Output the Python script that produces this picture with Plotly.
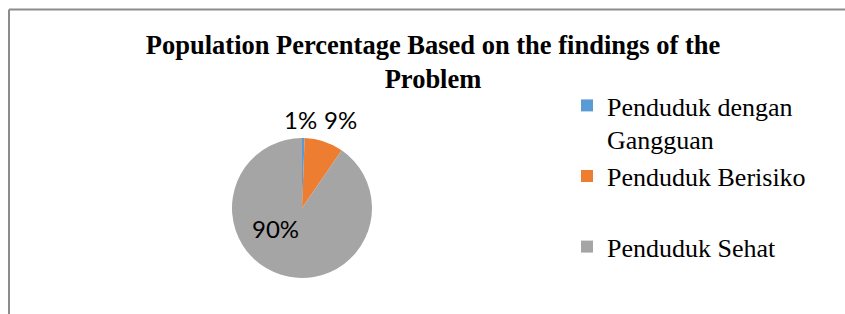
import plotly.graph_objects as go

# Data
categories = ["Penduduk dengan<br>Gangguan", "Penduduk Berisiko<br> ", "Penduduk Sehat"]
values = [0.6, 9.0, 90.4]
colors = ["#5B9BD5", "#ED7D31", "#A5A5A5"]
title_text = "<b>Population Percentage Based on the findings of the<br>Problem</b>"

W, H = 845, 314
cx, cy, r = 302, 208, 70

# label offsets (pixels from pie centre) for the percentage labels
label_offsets = [(-2, -88.5), (38.5, -88.5), (-26.5, 20.5)]

total = sum(values)
pct_labels = [f"{round(v / total * 100)}%" for v in values]

fig = go.Figure()
fig.add_trace(go.Pie(
    labels=categories,
    values=values,
    sort=False,
    direction="clockwise",
    rotation=0,
    marker=dict(colors=colors, line=dict(width=0)),
    textinfo="none",
    domain=dict(x=[(cx - r) / W, (cx + r) / W], y=[1 - (cy + r) / H, 1 - (cy - r) / H]),
    hoverinfo="label+percent",
    showlegend=True,
))

annotations = []
for txt, (dx, dy) in zip(pct_labels, label_offsets):
    annotations.append(dict(
        text=txt, showarrow=False,
        xref="paper", yref="paper",
        x=(cx + dx) / W, y=1 - (cy + dy) / H,
        xanchor="center", yanchor="middle",
        font=dict(family="Lato", size=24, color="#000000"),
    ))

fig.update_layout(
    width=W, height=H,
    margin=dict(l=0, r=0, t=0, b=0),
    paper_bgcolor="white",
    plot_bgcolor="white",
    title=dict(
        text=title_text,
        x=433 / W, xanchor="center",
        y=1 - 54 / H, yanchor="top",
        yref="container",
        font=dict(family="Liberation Serif", size=26.5, color="#000000"),
    ),
    legend=dict(
        x=567 / W, xanchor="left",
        y=1 - 82 / H, yanchor="top",
        valign="top",
        font=dict(family="Liberation Serif", size=26, color="#000000"),
        bgcolor="rgba(0,0,0,0)",
        itemclick=False,
    ),
    annotations=annotations,
    shapes=[
        dict(type="line", xref="paper", yref="paper",
             x0=9 / W, x1=1, y0=1 - 9.5 / H, y1=1 - 9.5 / H,
             line=dict(color="#8c8c8c", width=2)),
        dict(type="line", xref="paper", yref="paper",
             x0=9 / W, x1=9 / W, y0=0, y1=1 - 9.5 / H,
             line=dict(color="#8c8c8c", width=2)),
    ],
)

fig.write_html(
    "out.html",
    config={"displayModeBar": False},
    post_script="document.body.style.margin='0';document.body.style.padding='0';document.body.style.overflow='hidden';",
)
